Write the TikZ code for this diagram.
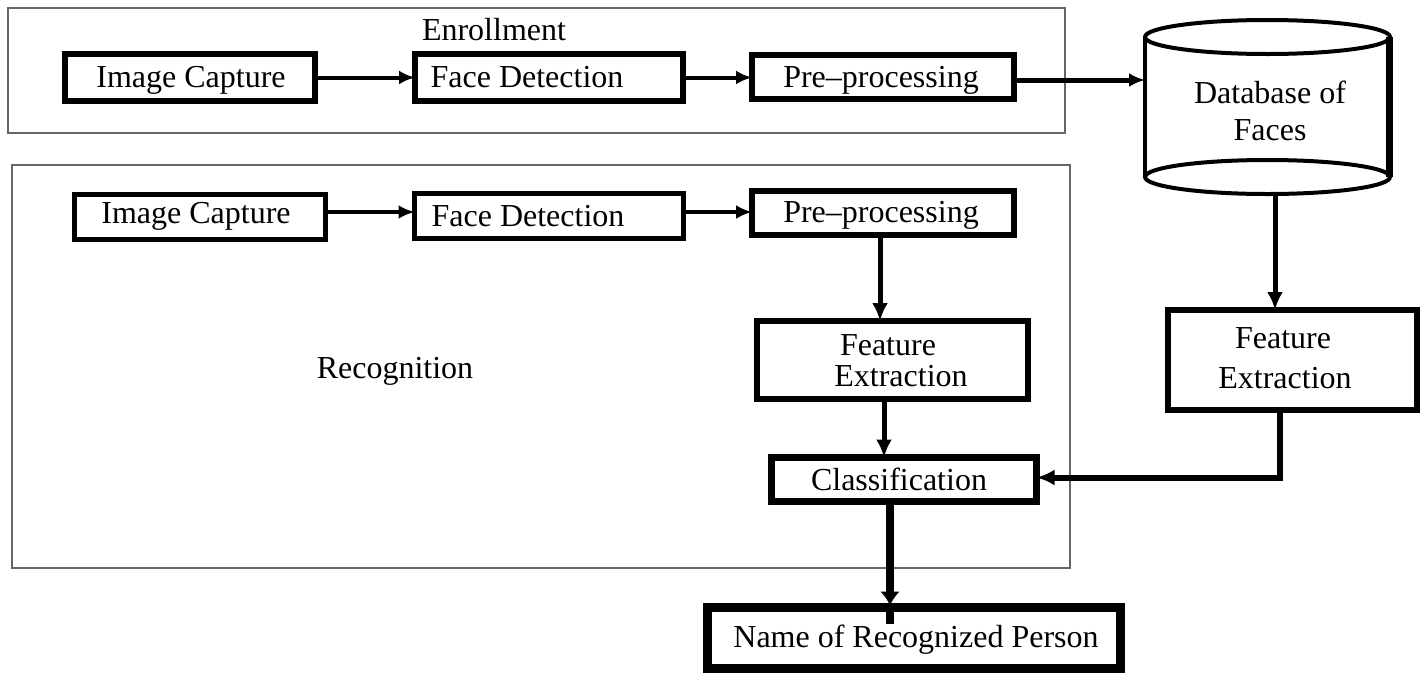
\documentclass[tikz,border=0pt]{standalone}
\usepackage{fontspec}
\setmainfont{Liberation Serif}
\usetikzlibrary{arrows.meta}
\begin{document}
\begin{tikzpicture}[x=0.5pt,y=-0.5pt,
  every node/.style={inner sep=0pt, outer sep=0pt},
  lbl/.style={font=\fontsize{16}{19}\selectfont, anchor=mid, yshift=-3pt},
  boxnode/.style={draw, rectangle, fill=white},
  frame/.style={draw=black!60, line width=1.1pt},
  conn/.style={line width=2pt, -{Latex[length=8pt,width=7pt]}},
  vconn/.style={line width=2.5pt, -{Latex[length=9pt,width=8pt]}},
]
\useasboundingbox (0,0) rectangle (1427,675);
% frames
\draw[frame] (8,8) rectangle (1065,133);
\draw[frame] (12,165) rectangle (1070,568);

% enrollment boxes
\node[boxnode, line width=3pt, minimum width=125pt, minimum height=23.5pt] (eic) at (190,77.5) {};
\node[boxnode, line width=3pt, minimum width=134pt, minimum height=23.5pt] (efd) at (549,77.5) {};
\node[boxnode, line width=3pt, minimum width=131pt, minimum height=22pt] (epp) at (883,77) {};

% database
\node[minimum width=122.5pt, minimum height=87pt] (db) at (1267.5,107) {};
\draw[line width=2pt] (1267.5,37) ellipse [x radius=61.25pt, y radius=8.5pt];
\draw[line width=2pt] (1267.5,177) ellipse [x radius=61.25pt, y radius=8.5pt];
\draw[line width=2pt] (1145,37) -- (1145,177);
\draw[line width=3.5pt] (1389,37) -- (1389,177);

% recognition boxes
\node[boxnode, line width=2.5pt, minimum width=125.5pt, minimum height=22.5pt] (ric) at (200,217) {};
\node[boxnode, line width=2.5pt, minimum width=134.5pt, minimum height=22.5pt] (rfd) at (549,216) {};
\node[boxnode, line width=3pt, minimum width=131pt, minimum height=22pt] (rpp) at (883,213) {};
\node[boxnode, line width=3pt, minimum width=135.5pt, minimum height=39pt] (rfe) at (892.5,360) {};
\node[boxnode, line width=3.5pt, minimum width=132.5pt, minimum height=22pt] (cls) at (904,479.5) {};
\node[boxnode, line width=4.5pt, minimum width=206.5pt, minimum height=30.5pt] (name) at (914,638) {};
\node[boxnode, line width=3pt, minimum width=124.5pt, minimum height=50pt] (rfe2) at (1292.5,360) {};

% connectors
\draw[conn] (eic) -- (efd);
\draw[conn] (efd.east) -- (efd.east -| epp.west);
\draw[conn, line width=2.5pt] ([yshift=-1.5pt]epp.east) -- ([yshift=-1.5pt]epp.east -| db.west);
\draw[conn] ([yshift=2.5pt]ric.east) -- ([yshift=2.5pt]ric.east -| rfd.west);
\draw[conn] ([yshift=2pt]rfd.east) -- ([yshift=2pt]rfd.east -| rpp.west);
\draw[vconn] ([xshift=-1.5pt]rpp.south) -- ([xshift=-1.5pt]rpp.south |- rfe.north);
\draw[vconn] ([xshift=-4.25pt]rfe.south) -- ([xshift=-4.25pt]rfe.south |- cls.north);
\draw[line width=4pt, -{Latex[length=7pt,width=10pt]}] ([xshift=-7pt]cls.south) -- ([xshift=-7pt,yshift=1pt]cls.south |- name.north);
\draw[line width=4pt] ([xshift=-7pt]cls.south |- name.north) -- ([xshift=-7pt,yshift=-8pt]cls.south |- name.north);
\draw[vconn] ([xshift=-8.75pt]rfe2.north |- db.south) -- ([xshift=-8.75pt]rfe2.north);
\draw[line width=3pt, -{Latex[length=9pt,width=8pt]}] ([xshift=-6.25pt]rfe2.south) |- ([yshift=1pt]cls.east);

% labels
\node[lbl] at (494,30) {Enrollment};
\node[lbl] at (191,77) {Image Capture};
\node[lbl] at (527,77) {Face Detection};
\node[lbl] at (881,77) {Pre--processing};
\node[lbl] at (1270,93) {Database of};
\node[lbl] at (1270,130) {Faces};
\node[lbl] at (196,213) {Image Capture};
\node[lbl] at (528,216) {Face Detection};
\node[lbl] at (881,212) {Pre--processing};
\node[lbl] at (395,368) {Recognition};
\node[lbl] at (888,345) {Feature};
\node[lbl] at (901,376) {Extraction};
\node[lbl] at (1283,338) {Feature};
\node[lbl] at (1285,378) {Extraction};
\node[lbl] at (899,480) {Classification};
\node[lbl] at (916,637) {Name of Recognized Person};
\end{tikzpicture}
\end{document}
